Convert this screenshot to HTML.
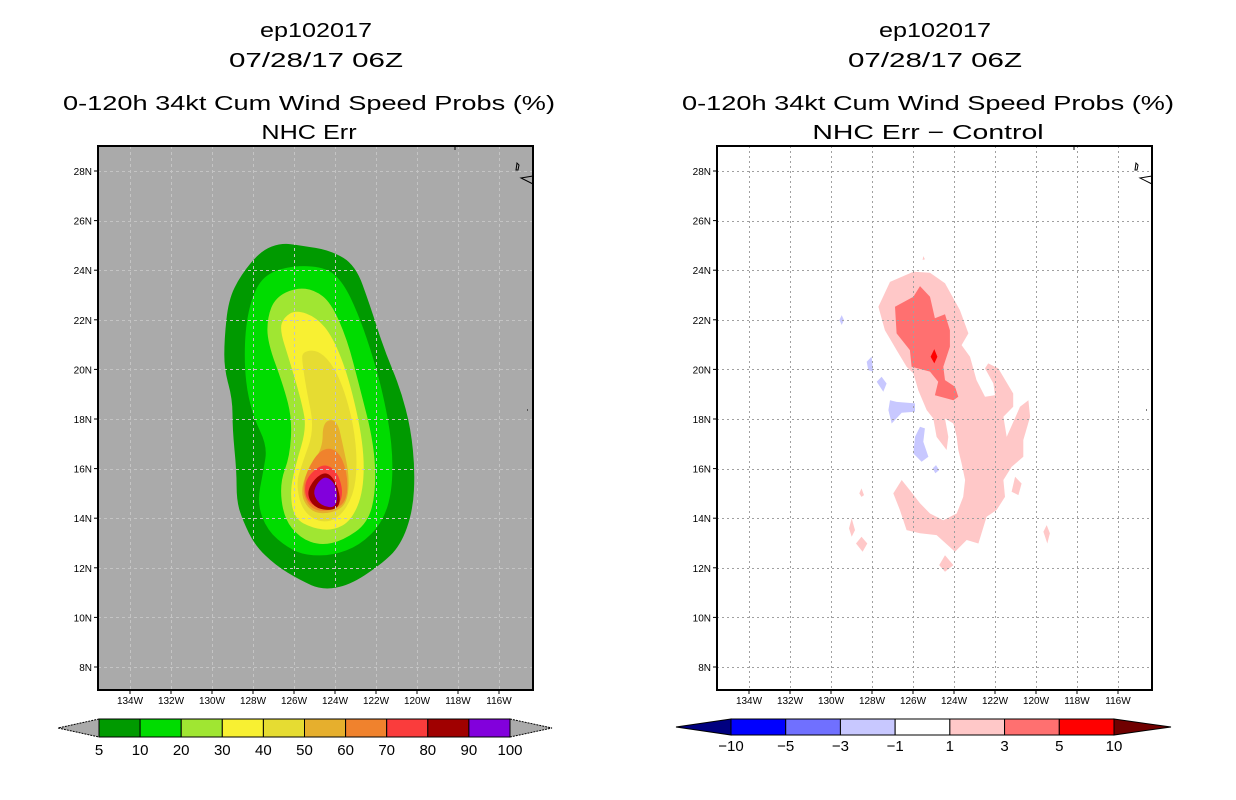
<!DOCTYPE html>
<html><head><meta charset="utf-8"><style>
html,body{margin:0;padding:0;background:#fff}
svg{display:block}
text{font-family:"Liberation Sans",sans-serif;fill:#000}
</style></head><body>
<svg id="chart" width="1236" height="800" viewBox="0 0 1236 800"></svg>
<script>
// ---------- data ----------
const lonTicks=[134,132,130,128,126,124,122,120,118,116];
const latTicks=[28,26,24,22,20,18,16,14,12,10,8];
const probLevels=["5","10","20","30","40","50","60","70","80","90","100"];
const probColors=["#009a00","#00dc00","#a0e632","#f8f032","#e6dc32","#e6af2d","#f0822d","#fa3c3c","#a00000","#8200dc"];
const diffLevels=["\u221210","\u22125","\u22123","\u22121","1","3","5","10"];
const diffColors=["#000080","#0000ff","#7070ff","#c8c8ff","#ffffff","#ffc8c8","#ff7070","#ff0000","#700000"];
// contours [lonW, latN]
const c5=[[126.6,25.1],[127.6,24.8],[128.6,23.8],[129.2,22.8],[129.4,21.2],[129.4,20.0],[129.0,18.8],[129.0,17.6],[128.8,15.9],[128.8,14.7],[128.5,13.9],[127.9,12.9],[126.9,12.1],[125.7,11.5],[124.6,11.1],[123.3,11.3],[121.8,12.1],[120.8,12.9],[120.2,14.3],[120.1,15.9],[120.3,17.6],[120.8,19.2],[121.6,20.8],[122.3,22.6],[123.0,24.2],[124.2,24.8],[125.7,25.0]];
const c10=[[125.9,24.2],[127.3,23.9],[128.0,23.1],[128.4,21.6],[128.4,19.6],[128.0,18.1],[127.3,16.9],[127.5,15.9],[127.8,14.6],[127.3,13.5],[126.3,12.8],[125.4,12.5],[124.1,12.5],[122.8,12.9],[121.7,13.8],[121.2,15.1],[121.2,17.0],[121.7,19.2],[122.3,20.9],[122.9,22.3],[123.6,23.5],[124.4,24.1]];
const c20=[[125.9,23.3],[126.9,22.9],[127.3,22.1],[127.3,21.1],[126.5,19.3],[126.1,18.0],[126.2,16.5],[126.7,15.4],[126.5,14.0],[125.7,13.2],[124.7,12.9],[123.6,13.1],[122.4,13.8],[122.0,15.1],[122.1,17.0],[122.8,19.3],[123.4,21.2],[124.2,22.7],[125.0,23.2]];
const c30=[[125.9,22.4],[126.5,22.1],[126.7,21.6],[126.2,20.3],[125.6,18.6],[125.4,17.6],[125.9,16.2],[126.2,15.1],[126.0,14.0],[125.1,13.6],[124.1,13.5],[123.2,13.9],[122.6,15.1],[122.6,17.0],[123.3,19.6],[124.1,21.3],[124.9,22.1]];
const c40=[[125.6,20.7],[124.9,20.8],[124.2,20.3],[123.6,19.3],[123.1,17.8],[122.9,16.2],[123.1,14.9],[123.8,14.0],[124.7,13.8],[125.6,14.3],[125.9,15.4],[125.6,16.2],[125.0,17.6],[125.4,19.2],[125.6,20.3]];
const c50=[[124.6,17.9],[123.9,18.0],[123.6,16.9],[123.3,15.7],[123.4,14.6],[124.1,14.2],[125.1,14.2],[125.7,14.9],[125.4,15.9],[124.6,16.8]];
const c60=[[124.7,16.8],[123.9,16.8],[123.4,15.9],[123.4,14.7],[124.1,14.3],[125.1,14.3],[125.6,15.0],[125.4,15.9]];
const c70=[[124.5,16.2],[123.9,15.9],[123.6,15.1],[123.8,14.5],[124.6,14.3],[125.4,14.7],[125.5,15.4],[125.1,15.9]];
const c80=[[124.4,15.9],[123.9,15.4],[123.7,14.6],[124.1,14.3],[125.0,14.4],[125.4,15.0],[125.0,15.6]];
const c90=[[124.4,15.7],[123.9,15.3],[123.9,14.4],[124.7,14.5],[125.1,15.0],[124.8,15.5]];
const probContours=[c5,c10,c20,c30,c40,c50,c60,c70,c80,c90];
// difference panel
const dPos1=[[127.12,23.53],[125.98,23.94],[125.17,23.90],[124.44,23.47],[123.71,22.39],[123.30,21.45],[123.63,20.98],[123.22,20.51],[122.90,19.57],[122.49,18.90],[122.00,18.96],[122.08,19.43],[122.49,20.04],[122.33,20.24],[121.84,20.04],[121.11,19.03],[121.11,18.49],[121.59,18.09],[121.43,17.28],[120.78,18.49],[120.37,18.76],[120.29,18.09],[120.62,17.15],[120.62,16.48],[121.19,16.07],[121.59,15.54],[121.51,14.86],[121.92,14.33],[122.41,14.06],[122.81,12.98],[123.38,13.12],[123.95,12.65],[124.85,13.32],[125.66,13.39],[126.31,13.52],[126.64,14.33],[126.96,15.00],[126.55,15.54],[126.15,15.13],[125.66,14.60],[125.17,14.19],[124.52,13.92],[123.87,14.19],[123.55,14.86],[123.46,15.54],[123.63,16.21],[123.79,16.75],[123.87,17.28],[124.03,17.82],[124.44,18.02],[124.28,17.28],[124.36,16.75],[124.85,17.28],[125.01,18.02],[125.33,18.36],[125.74,19.16],[125.98,19.84],[126.31,20.11],[126.80,20.78],[127.37,21.58],[127.69,22.53]];
const dPosSmall=[
 [[128.51,15.20],[128.39,14.93],[128.51,14.86],[128.62,15.00]],
 [[128.99,13.99],[128.83,13.52],[128.99,13.25],[129.12,13.59]],
 [[128.51,13.25],[128.23,12.98],[128.46,12.65],[128.78,12.98]],
 [[124.44,12.51],[124.03,12.11],[124.44,11.84],[124.72,12.11]],
 [[121.02,15.67],[120.70,15.40],[120.86,14.93],[121.19,15.07]],
 [[119.48,13.72],[119.32,13.39],[119.45,12.98],[119.64,13.45]],
 [[125.50,24.57],[125.42,24.44],[125.53,24.41]]];
const dPos3=[[126.88,22.53],[125.98,22.93],[125.66,23.36],[125.17,22.93],[124.93,22.06],[124.44,22.22],[124.20,21.58],[124.20,20.91],[124.52,20.11],[124.44,19.57],[123.95,19.30],[123.79,18.90],[124.03,18.76],[124.93,18.96],[124.77,19.50],[125.17,19.91],[126.07,20.11],[126.15,20.78],[126.80,21.45]];
const dPos5=[[124.96,20.82],[124.81,20.51],[124.96,20.24],[125.14,20.51]];
const dNeg1=[
 [[129.48,22.19],[129.37,21.99],[129.48,21.79],[129.59,21.99]],
 [[128.26,20.31],[128.02,20.51],[127.94,19.91],[128.18,19.97]],
 [[127.77,19.50],[127.53,19.70],[127.29,19.43],[127.45,19.10]],
 [[127.12,18.76],[126.80,18.69],[125.90,18.63],[125.90,18.29],[126.55,18.25],[127.04,17.82],[127.20,18.36]],
 [[125.66,17.69],[125.42,17.62],[125.50,17.08],[125.25,16.48],[125.58,16.28],[125.98,16.61],[125.90,17.28]],
 [[125.04,16.01],[124.88,16.14],[124.72,15.94],[124.91,15.81]]];

// ---------- helpers ----------
const NS="http://www.w3.org/2000/svg";
const svg=document.getElementById('chart');
function el(tag,attrs,parent){const e=document.createElementNS(NS,tag);for(const k in attrs)e.setAttribute(k,attrs[k]);(parent||svg).appendChild(e);return e;}
const FRAME={x0:98,x1:533,y0:146,y1:690};
function xScale(lonW,off){return 130+(134-lonW)*20.5+off;}
function yScale(lat){return 171+(28-lat)*24.8;}
function pts(arr,off){return arr.map(p=>xScale(p[0],off).toFixed(1)+","+yScale(p[1]).toFixed(1)).join(" ");}
function smoothPath(arr,off){
  const P=arr.map(p=>[xScale(p[0],off),yScale(p[1])]);const n=P.length;
  const mid=(a,b)=>[(a[0]+b[0])/2,(a[1]+b[1])/2];
  let m=mid(P[n-1],P[0]);let d=`M${m[0].toFixed(1)},${m[1].toFixed(1)}`;
  for(let i=0;i<n;i++){const q=mid(P[i],P[(i+1)%n]);d+=` Q${P[i][0].toFixed(1)},${P[i][1].toFixed(1)} ${q[0].toFixed(1)},${q[1].toFixed(1)}`;}
  return d+'Z';
}
function txt(x,y,s,size,anchor,parent,len){const t=el('text',{x:x,y:y,'font-size':size,'text-anchor':anchor||'middle'},parent);if(len){t.setAttribute('textLength',len);t.setAttribute('lengthAdjust','spacingAndGlyphs');}t.textContent=s;return t;}

function panel(off,bg,titleLine4,name){
  const g=el('g',{});
  
  
  const cx=off+316;
  const t1=txt(cx,37,"ep102017",20,'middle',g,112);
  
  const t2=txt(cx,67,"07/28/17 06Z",20,'middle',g,174);
  
  const t3=txt(off+309,110,"0-120h 34kt Cum Wind Speed Probs (%)",20,'middle',g,492);
  
  const t4=txt(off+309,139,titleLine4,20,'middle',g,titleLine4.length*13.6);
  
  const clip=el('clipPath',{id:'clip'+off},g);
  el('rect',{x:FRAME.x0+off,y:FRAME.y0,width:FRAME.x1-FRAME.x0,height:FRAME.y1-FRAME.y0},clip);
  const bgR=el('rect',{x:FRAME.x0+off,y:FRAME.y0,width:FRAME.x1-FRAME.x0,height:FRAME.y1-FRAME.y0,fill:bg},g);
  
  const fills=el('g',{'clip-path':'url(#clip'+off+')'},g);
  return {g,fills,off};
}
function gridAndFrame(P,gridColor,dash){
  const off=P.off;
  const grid=el('g',{stroke:gridColor,'stroke-width':1,'stroke-dasharray':dash},P.g);
  
  lonTicks.forEach(l=>{const x=Math.round(xScale(l,off))+0.5;el('line',{x1:x,y1:FRAME.y0,x2:x,y2:FRAME.y1},grid);});
  latTicks.forEach(l=>{const y=Math.round(yScale(l))+0.5;el('line',{x1:FRAME.x0+off,y1:y,x2:FRAME.x1+off,y2:y},grid);});
  const land=el('path',{d:`M${516+off},170 L${517+off},163 L${519+off},165 L${518+off},170 Z M${533+off},176 L${521+off},178 L${533+off},184`,fill:'none',stroke:'#000','stroke-width':1},P.g);
  
  el('line',{x1:455+off,y1:146,x2:455+off,y2:150,stroke:'#000'},P.g);
  el('line',{x1:527+off,y1:410,x2:528+off,y2:410,stroke:'#000'},P.g);
  const fr=el('rect',{x:FRAME.x0+off,y:FRAME.y0,width:FRAME.x1-FRAME.x0,height:FRAME.y1-FRAME.y0,fill:'none',stroke:'#000','stroke-width':2},P.g);
  
  const ax=el('g',{},P.g);
  
  lonTicks.forEach(l=>{const x=xScale(l,off);el('line',{x1:x,y1:FRAME.y1,x2:x,y2:FRAME.y1+4,stroke:'#000'},ax);
    const t=txt(x,704,l+"W",10,'middle',ax);});
  latTicks.forEach(l=>{const y=yScale(l);el('line',{x1:FRAME.x0+off-4,y1:y,x2:FRAME.x0+off,y2:y,stroke:'#000'},ax);
    const t=txt(FRAME.x0+off-6,y+4,l+"N",10,'end',ax);});
}

// ---------- left panel ----------
const L=panel(0,'#aaaaaa',"NHC Err",'probability-panel');
probContours.forEach((c,i)=>{
  const p=el('path',{d:smoothPath(c,0),fill:probColors[i]},L.fills);
  
  
});
gridAndFrame(L,'#c4c4c4','3,3');
(function(){
  const cb=el('g',{stroke:'#000','stroke-width':1});
  
  
  const x0=99,x1=510,y0=719,y1=737,n=probColors.length,w=(x1-x0)/n;
  el('polygon',{points:`${x0},${y0} ${58},${(y0+y1)/2} ${x0},${y1}`,fill:'#aaaaaa','stroke-dasharray':'2,1'},cb);
  el('polygon',{points:`${x1},${y0} ${552},${(y0+y1)/2} ${x1},${y1}`,fill:'#aaaaaa','stroke-dasharray':'2,1'},cb);
  probColors.forEach((c,i)=>{const r=el('rect',{x:x0+i*w,y:y0,width:w,height:y1-y0,fill:c},cb);
    });
  probLevels.forEach((s,i)=>{const t=txt(x0+i*w,755,s,15,'middle');
    });
})();

// ---------- right panel ----------
const OFF=619;
const R=panel(OFF,'#ffffff',"NHC Err \u2212 Control",'difference-panel');
function drawPoly(arr,color,name){const p=el('polygon',{points:pts(arr,OFF),fill:color},R.fills);
  }
drawPoly(dPos1,'#ffc8c8','diff-plus-1-region');
dPosSmall.forEach(a=>drawPoly(a,'#ffc8c8','diff-plus-1-patch'));
drawPoly(dPos3,'#ff7070','diff-plus-3-region');
drawPoly(dPos5,'#ff0000','diff-plus-5-region');
dNeg1.forEach(a=>drawPoly(a,'#c8c8ff','diff-minus-1-patch'));
gridAndFrame(R,'#a0a0a0','2,3');
(function(){
  const cb=el('g',{stroke:'#000','stroke-width':1});
  
  
  const x0=731,x1=1114,y0=719,y1=735,n=diffColors.length-2,w=(x1-x0)/n;
  el('polygon',{points:`${x0},${y0} ${676},${(y0+y1)/2} ${x0},${y1}`,fill:diffColors[0]},cb);
  el('polygon',{points:`${x1},${y0} ${1171},${(y0+y1)/2} ${x1},${y1}`,fill:diffColors[diffColors.length-1]},cb);
  for(let i=0;i<n;i++){const r=el('rect',{x:x0+i*w,y:y0,width:w,height:y1-y0,fill:diffColors[i+1]},cb);
    }
  diffLevels.forEach((s,i)=>{const t=txt(x0+i*w,751,s,15,'middle');
    });
})();
</script>
</body></html>
